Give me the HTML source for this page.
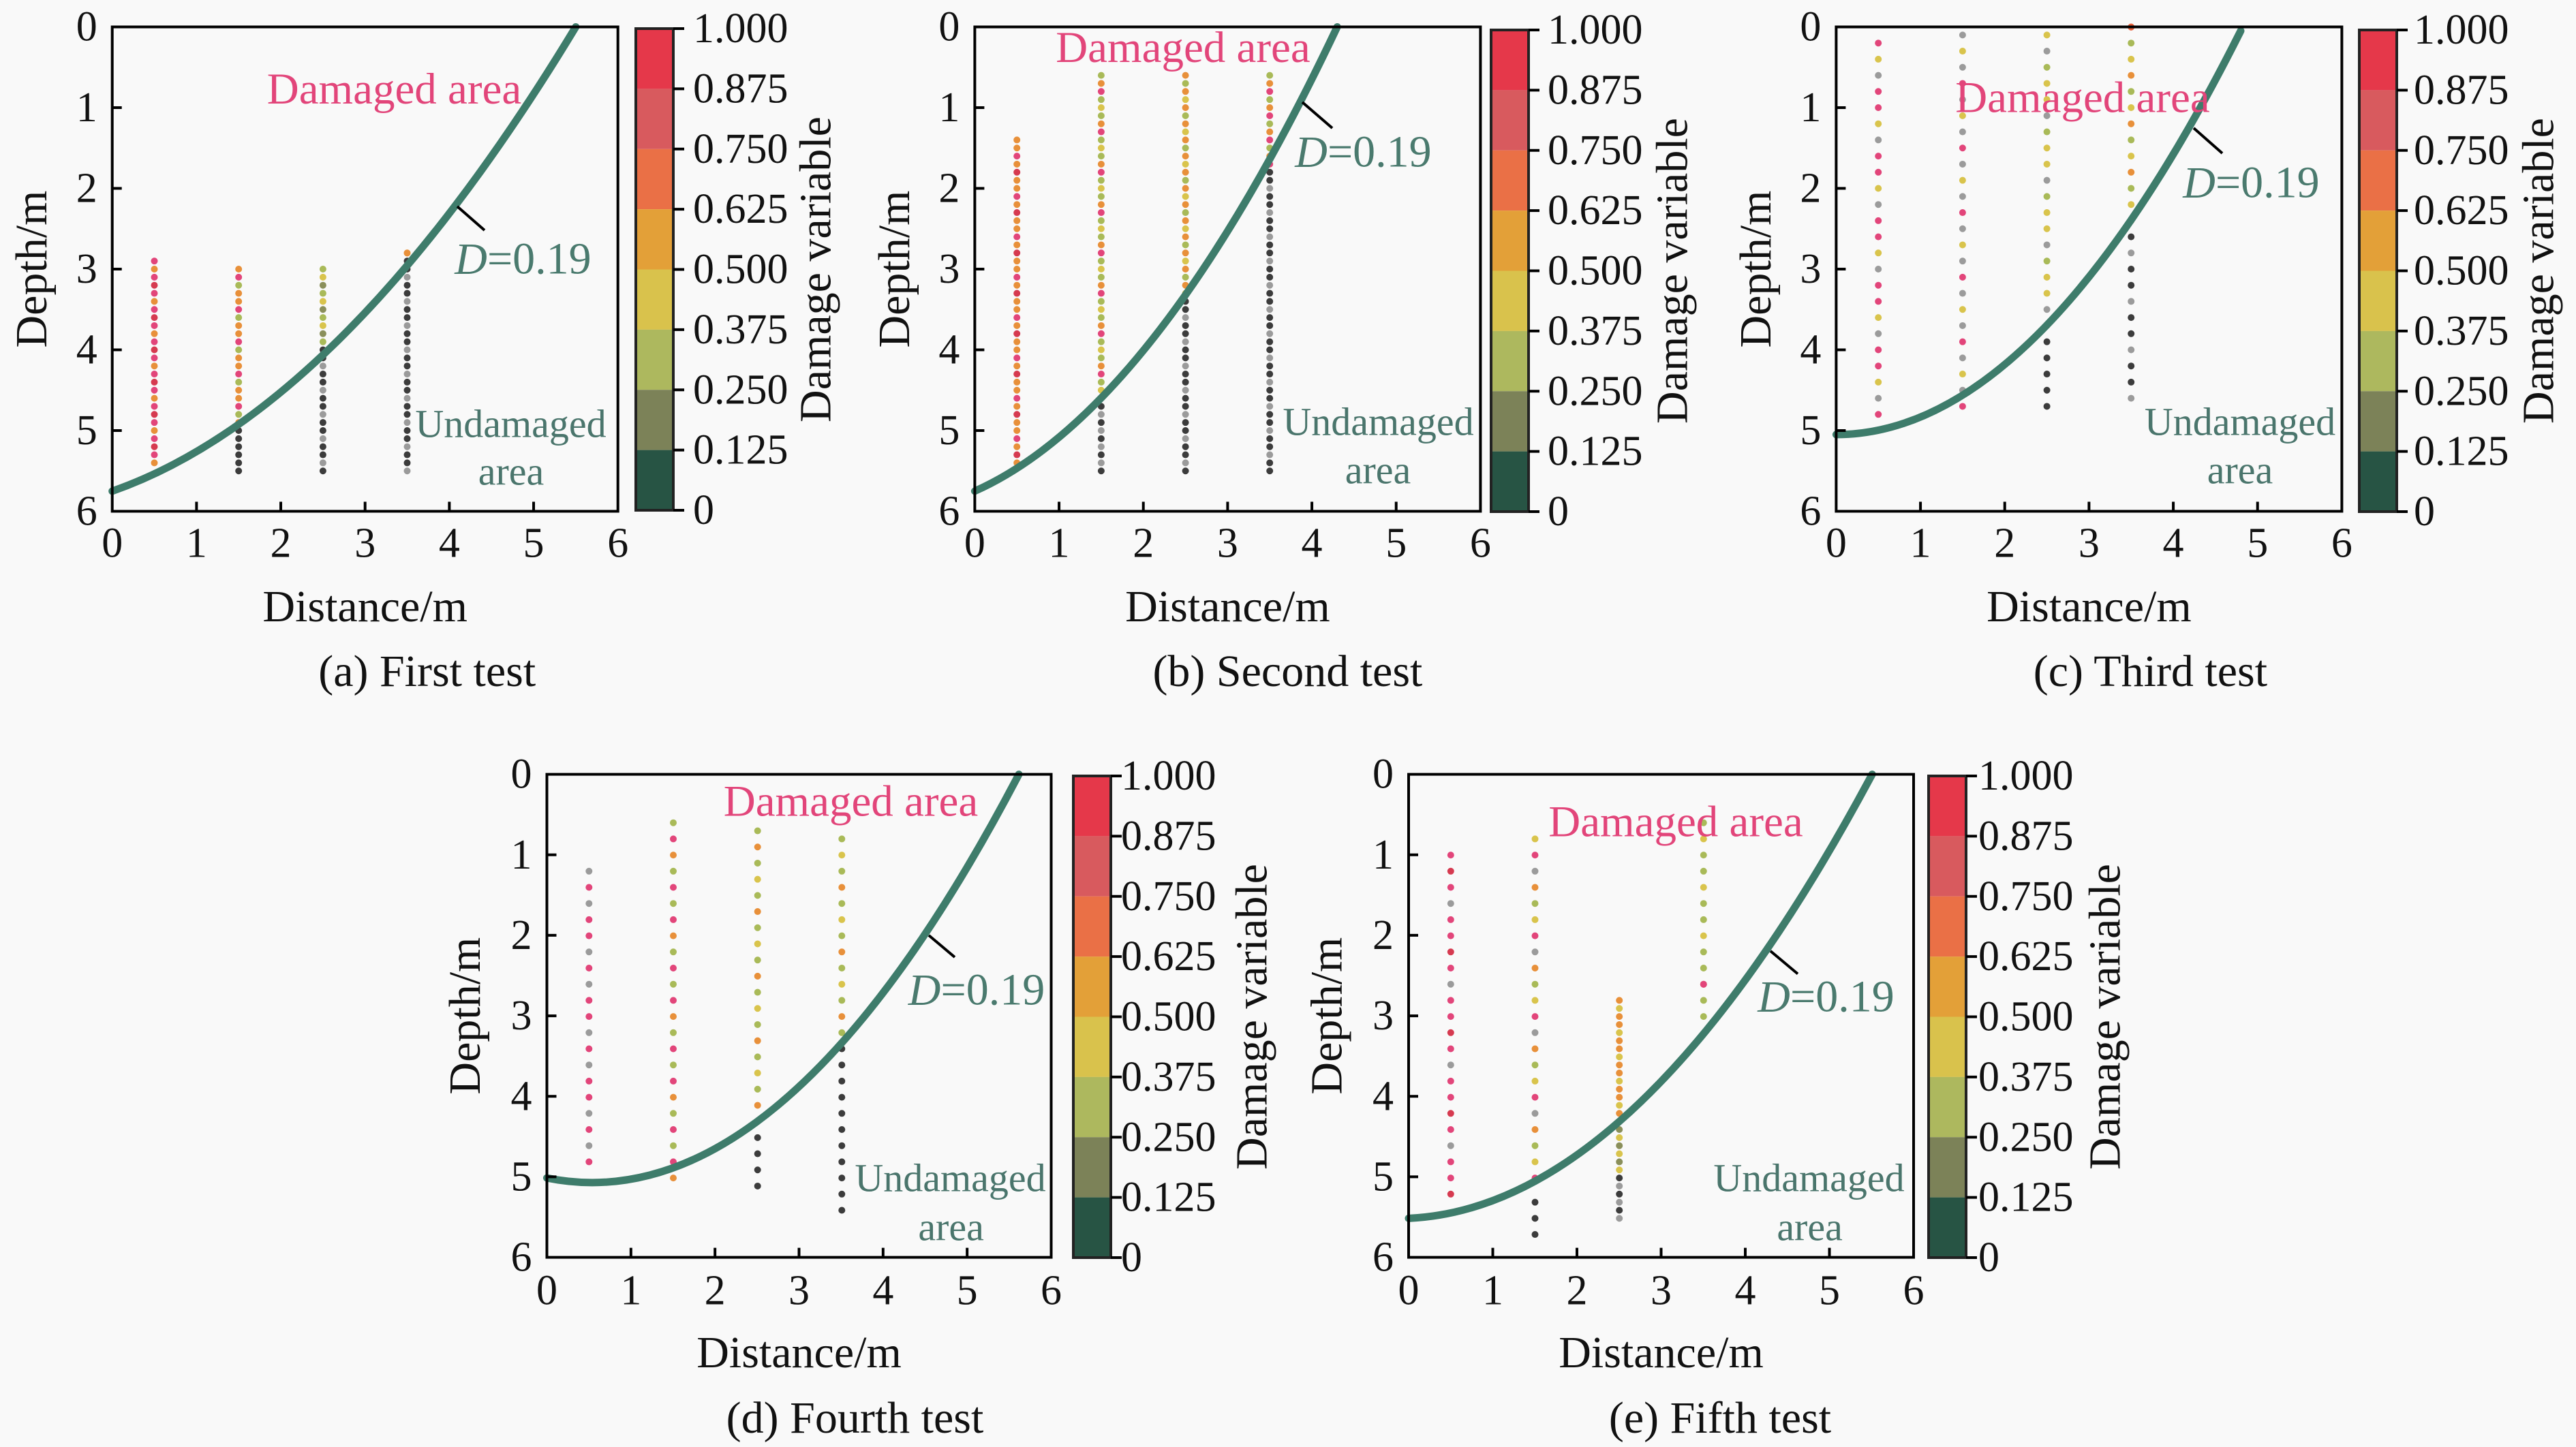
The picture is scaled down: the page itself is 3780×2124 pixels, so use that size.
<!DOCTYPE html>
<html><head><meta charset="utf-8"><style>
html,body{margin:0;padding:0;background:#f9f9f9;}
svg{display:block;}
text{font-family:"Liberation Serif","Times New Roman",serif;fill:#111;}
.tk{font-size:62px;}
.ti{font-size:66px;}
.cap{font-size:66px;}
.dm{font-size:65px;fill:#e2457a;}
.ud{font-size:58px;fill:#4a756c;}
.dv{font-size:66px;fill:#4a7a6e;}
.dl path{fill:none;stroke-width:10;stroke-linecap:round;}
.cv{fill:none;stroke:#3e7c6b;stroke-width:11;stroke-linecap:round;}
.fr{fill:none;stroke:#000;stroke-width:4;}
</style></head><body>
<svg width="3780" height="2124" viewBox="0 0 3780 2124" xmlns="http://www.w3.org/2000/svg">
<rect x="0" y="0" width="3780" height="2124" fill="#f9f9f9"/>

<!-- ================= PANEL A ================= -->
<g transform="translate(164.7,39.5)">
 <g class="dl">
  <path d="M61.8 343.65V646" stroke="#e2457a" stroke-dasharray="0.01 47.39"/>
  <path d="M61.8 355.5V646" stroke="#e8903a" stroke-dasharray="0.01 47.39"/>
  <path d="M61.8 367.35V646" stroke="#e2457a" stroke-dasharray="0.01 47.39"/>
  <path d="M61.8 379.2V646" stroke="#d63a50" stroke-dasharray="0.01 47.39"/>
  <path d="M185.5 355.5V581" stroke="#e8903a" stroke-dasharray="0.01 47.39"/>
  <path d="M185.5 367.35V581" stroke="#e2457a" stroke-dasharray="0.01 47.39"/>
  <path d="M185.5 379.2V581" stroke="#a9ba58" stroke-dasharray="0.01 47.39"/>
  <path d="M185.5 391.05V581" stroke="#e8903a" stroke-dasharray="0.01 47.39"/>
  <path d="M185.5 592.5V652" stroke="#3c3c3c" stroke-dasharray="0.01 11.84"/>
  <path d="M309.2 355.5V463" stroke="#a9ba58" stroke-dasharray="0.01 35.54"/>
  <path d="M309.2 367.35V463" stroke="#d9c44c" stroke-dasharray="0.01 35.54"/>
  <path d="M309.2 379.2V463" stroke="#8a8f5a" stroke-dasharray="0.01 35.54"/>
  <path d="M309.2 474V652" stroke="#3c3c3c" stroke-dasharray="0.01 35.54"/>
  <path d="M309.2 485.85V652" stroke="#3c3c3c" stroke-dasharray="0.01 35.54"/>
  <path d="M309.2 497.7V652" stroke="#9b9b9b" stroke-dasharray="0.01 35.54"/>
  <path d="M432.8 331.8V332" stroke="#e8903a"/>
  <path d="M432.8 343.65V652" stroke="#3c3c3c" stroke-dasharray="0.01 35.54"/>
  <path d="M432.8 355.5V652" stroke="#3c3c3c" stroke-dasharray="0.01 35.54"/>
  <path d="M432.8 367.35V652" stroke="#9b9b9b" stroke-dasharray="0.01 35.54"/>
 </g>
 <path class="cv" d="M0 681.4Q340.1 562.1 680.2 0"/>
 <rect class="fr" x="0" y="0" width="742" height="711"/>
 <path d="M123.67 711v-14M247.33 711v-14M371 711v-14M494.67 711v-14M618.33 711v-14M0 118.5h14M0 237h14M0 355.5h14M0 474h14M0 592.5h14" stroke="#000" stroke-width="4" fill="none"/>
 <g class="tk" text-anchor="middle" dominant-baseline="central">
  <text x="0" y="758">0</text><text x="123.67" y="758">1</text><text x="247.33" y="758">2</text><text x="371" y="758">3</text><text x="494.67" y="758">4</text><text x="618.33" y="758">5</text><text x="742" y="758">6</text>
 </g>
 <g class="tk" text-anchor="end" dominant-baseline="central">
  <text x="-22" y="0">0</text><text x="-22" y="118.5">1</text><text x="-22" y="237">2</text><text x="-22" y="355.5">3</text><text x="-22" y="474">4</text><text x="-22" y="592.5">5</text><text x="-22" y="711">6</text>
 </g>
 <text class="ti" text-anchor="middle" dominant-baseline="central" transform="translate(-118,355.5) rotate(-90)">Depth/m</text>
 <text class="ti" x="371" y="851" text-anchor="middle" dominant-baseline="central">Distance/m</text>
 <text class="cap" x="462" y="946" text-anchor="middle" dominant-baseline="central">(a) First test</text>
 <text class="dm" x="413.8" y="91.5" text-anchor="middle" dominant-baseline="central">Damaged area</text>
 <path d="M506.3 263.5L546.3 298.5" stroke="#000" stroke-width="4"/>
 <text class="dv" x="602.8" y="340.5" text-anchor="middle" dominant-baseline="central"><tspan font-style="italic">D</tspan>=0.19</text>
 <text class="ud" x="584.8" y="582.5" text-anchor="middle" dominant-baseline="central">Undamaged</text>
 <text class="ud" x="585.3" y="652.5" text-anchor="middle" dominant-baseline="central">area</text>
</g>
<g transform="translate(933,42)">
 <rect x="0" y="0" width="55" height="88.4" fill="#e5384a"/><rect x="0" y="88.375" width="55" height="88.4" fill="#d85a5e"/><rect x="0" y="176.75" width="55" height="88.4" fill="#ea7046"/><rect x="0" y="265.125" width="55" height="88.4" fill="#e3a038"/><rect x="0" y="353.5" width="55" height="88.4" fill="#d9c24c"/><rect x="0" y="441.875" width="55" height="88.4" fill="#adb85e"/><rect x="0" y="530.25" width="55" height="88.4" fill="#7c8258"/><rect x="0" y="618.625" width="55" height="88.375" fill="#275444"/>
 <rect x="0" y="0" width="55" height="707" fill="none" stroke="#222" stroke-width="4"/>
 <path d="M55 0h16M55 88.4h16M55 176.8h16M55 265.1h16M55 353.5h16M55 441.9h16M55 530.3h16M55 618.6h16M55 707h16" stroke="#000" stroke-width="4"/>
 <g class="tk" dominant-baseline="central">
  <text x="84" y="0">1.000</text><text x="84" y="88.4">0.875</text><text x="84" y="176.8">0.750</text><text x="84" y="265.1">0.625</text><text x="84" y="353.5">0.500</text><text x="84" y="441.9">0.375</text><text x="84" y="530.3">0.250</text><text x="84" y="618.6">0.125</text><text x="84" y="707">0</text>
 </g>
 <text class="ti" text-anchor="middle" dominant-baseline="central" transform="translate(264,353.5) rotate(-90)">Damage variable</text>
</g>

<!-- ================= PANEL B ================= -->
<g transform="translate(1430.4,39.5)">
 <g class="dl">
  <path d="M61.8 165.9V640.5" stroke="#e8903a" stroke-dasharray="0.01 59.24"/>
  <path d="M61.8 177.75V640.5" stroke="#e8903a" stroke-dasharray="0.01 59.24"/>
  <path d="M61.8 189.6V640.5" stroke="#e2457a" stroke-dasharray="0.01 59.24"/>
  <path d="M61.8 201.45V640.5" stroke="#e8903a" stroke-dasharray="0.01 59.24"/>
  <path d="M61.8 213.3V640.5" stroke="#d63a50" stroke-dasharray="0.01 59.24"/>
  <path d="M185.5 71.1V546" stroke="#a9ba58" stroke-dasharray="0.01 59.24"/>
  <path d="M185.5 82.95V546" stroke="#e8903a" stroke-dasharray="0.01 59.24"/>
  <path d="M185.5 94.8V546" stroke="#e2457a" stroke-dasharray="0.01 59.24"/>
  <path d="M185.5 106.65V546" stroke="#a9ba58" stroke-dasharray="0.01 59.24"/>
  <path d="M185.5 118.5V546" stroke="#d9c44c" stroke-dasharray="0.01 59.24"/>
  <path d="M185.5 556.95V652.5" stroke="#3c3c3c" stroke-dasharray="0.01 23.69"/>
  <path d="M185.5 568.8V652.5" stroke="#9b9b9b" stroke-dasharray="0.01 23.69"/>
  <path d="M309.2 71.1V392" stroke="#e8903a" stroke-dasharray="0.01 47.39"/>
  <path d="M309.2 82.95V392" stroke="#a9ba58" stroke-dasharray="0.01 47.39"/>
  <path d="M309.2 94.8V392" stroke="#e8903a" stroke-dasharray="0.01 47.39"/>
  <path d="M309.2 106.65V392" stroke="#d9c44c" stroke-dasharray="0.01 47.39"/>
  <path d="M309.2 402.9V652.5" stroke="#3c3c3c" stroke-dasharray="0.01 35.54"/>
  <path d="M309.2 414.75V652.5" stroke="#3c3c3c" stroke-dasharray="0.01 35.54"/>
  <path d="M309.2 426.6V652.5" stroke="#9b9b9b" stroke-dasharray="0.01 35.54"/>
  <path d="M432.8 71.1V202" stroke="#a9ba58" stroke-dasharray="0.01 35.54"/>
  <path d="M432.8 82.95V202" stroke="#e8903a" stroke-dasharray="0.01 35.54"/>
  <path d="M432.8 94.8V202" stroke="#e2457a" stroke-dasharray="0.01 35.54"/>
  <path d="M432.8 213.3V652.5" stroke="#3c3c3c" stroke-dasharray="0.01 35.54"/>
  <path d="M432.8 225.15V652.5" stroke="#3c3c3c" stroke-dasharray="0.01 35.54"/>
  <path d="M432.8 237V652.5" stroke="#9b9b9b" stroke-dasharray="0.01 35.54"/>
 </g>
 <path class="cv" d="M0 681.4Q265.9 562.9 531.8 0"/>
 <rect class="fr" x="0" y="0" width="742" height="711"/>
 <path d="M123.67 711v-14M247.33 711v-14M371 711v-14M494.67 711v-14M618.33 711v-14M0 118.5h14M0 237h14M0 355.5h14M0 474h14M0 592.5h14" stroke="#000" stroke-width="4" fill="none"/>
 <g class="tk" text-anchor="middle" dominant-baseline="central">
  <text x="0" y="758">0</text><text x="123.67" y="758">1</text><text x="247.33" y="758">2</text><text x="371" y="758">3</text><text x="494.67" y="758">4</text><text x="618.33" y="758">5</text><text x="742" y="758">6</text>
 </g>
 <g class="tk" text-anchor="end" dominant-baseline="central">
  <text x="-22" y="0">0</text><text x="-22" y="118.5">1</text><text x="-22" y="237">2</text><text x="-22" y="355.5">3</text><text x="-22" y="474">4</text><text x="-22" y="592.5">5</text><text x="-22" y="711">6</text>
 </g>
 <text class="ti" text-anchor="middle" dominant-baseline="central" transform="translate(-118,355.5) rotate(-90)">Depth/m</text>
 <text class="ti" x="371" y="851" text-anchor="middle" dominant-baseline="central">Distance/m</text>
 <text class="cap" x="459" y="946" text-anchor="middle" dominant-baseline="central">(b) Second test</text>
 <text class="dm" x="305.6" y="30.5" text-anchor="middle" dominant-baseline="central">Damaged area</text>
 <path d="M480.6 110.5L524.6 148.5" stroke="#000" stroke-width="4"/>
 <text class="dv" x="570.1" y="183.5" text-anchor="middle" dominant-baseline="central"><tspan font-style="italic">D</tspan>=0.19</text>
 <text class="ud" x="592.1" y="579.5" text-anchor="middle" dominant-baseline="central">Undamaged</text>
 <text class="ud" x="591.6" y="650.5" text-anchor="middle" dominant-baseline="central">area</text>
</g>
<g transform="translate(2188,44)">
 <rect x="0" y="0" width="55" height="88.4" fill="#e5384a"/><rect x="0" y="88.375" width="55" height="88.4" fill="#d85a5e"/><rect x="0" y="176.75" width="55" height="88.4" fill="#ea7046"/><rect x="0" y="265.125" width="55" height="88.4" fill="#e3a038"/><rect x="0" y="353.5" width="55" height="88.4" fill="#d9c24c"/><rect x="0" y="441.875" width="55" height="88.4" fill="#adb85e"/><rect x="0" y="530.25" width="55" height="88.4" fill="#7c8258"/><rect x="0" y="618.625" width="55" height="88.375" fill="#275444"/>
 <rect x="0" y="0" width="55" height="707" fill="none" stroke="#222" stroke-width="4"/>
 <path d="M55 0h16M55 88.4h16M55 176.8h16M55 265.1h16M55 353.5h16M55 441.9h16M55 530.3h16M55 618.6h16M55 707h16" stroke="#000" stroke-width="4"/>
 <g class="tk" dominant-baseline="central">
  <text x="83" y="0">1.000</text><text x="83" y="88.4">0.875</text><text x="83" y="176.8">0.750</text><text x="83" y="265.1">0.625</text><text x="83" y="353.5">0.500</text><text x="83" y="441.9">0.375</text><text x="83" y="530.3">0.250</text><text x="83" y="618.6">0.125</text><text x="83" y="707">0</text>
 </g>
 <text class="ti" text-anchor="middle" dominant-baseline="central" transform="translate(266,353.5) rotate(-90)">Damage variable</text>
</g>

<!-- ================= PANEL C ================= -->
<g transform="translate(2694.4,39.5)">
 <g class="dl">
  <path d="M61.8 23.7V569.5" stroke="#e2457a" stroke-dasharray="0.01 94.79"/>
  <path d="M61.8 47.4V569.5" stroke="#d9c44c" stroke-dasharray="0.01 94.79"/>
  <path d="M61.8 71.1V569.5" stroke="#9b9b9b" stroke-dasharray="0.01 94.79"/>
  <path d="M61.8 94.8V569.5" stroke="#e2457a" stroke-dasharray="0.01 94.79"/>
  <path d="M185.5 11.85V557.5" stroke="#9b9b9b" stroke-dasharray="0.01 94.79"/>
  <path d="M185.5 35.55V557.5" stroke="#d9c44c" stroke-dasharray="0.01 94.79"/>
  <path d="M185.5 59.25V557.5" stroke="#9b9b9b" stroke-dasharray="0.01 94.79"/>
  <path d="M185.5 82.95V557.5" stroke="#e2457a" stroke-dasharray="0.01 94.79"/>
  <path d="M309.2 11.85V439" stroke="#d9c44c" stroke-dasharray="0.01 94.79"/>
  <path d="M309.2 35.55V439" stroke="#9b9b9b" stroke-dasharray="0.01 94.79"/>
  <path d="M309.2 59.25V439" stroke="#a9ba58" stroke-dasharray="0.01 94.79"/>
  <path d="M309.2 82.95V439" stroke="#d9c44c" stroke-dasharray="0.01 94.79"/>
  <path d="M309.2 462.15V557.5" stroke="#3c3c3c" stroke-dasharray="0.01 23.69"/>
  <path d="M432.8 0V0.2" stroke="#e8603a"/>
  <path d="M432.8 23.7V285" stroke="#a9ba58" stroke-dasharray="0.01 71.09"/>
  <path d="M432.8 47.4V285" stroke="#d9c44c" stroke-dasharray="0.01 71.09"/>
  <path d="M432.8 71.1V285" stroke="#e8903a" stroke-dasharray="0.01 71.09"/>
  <path d="M432.8 308.1V546" stroke="#3c3c3c" stroke-dasharray="0.01 71.09"/>
  <path d="M432.8 331.8V546" stroke="#9b9b9b" stroke-dasharray="0.01 71.09"/>
  <path d="M432.8 355.5V546" stroke="#3c3c3c" stroke-dasharray="0.01 71.09"/>
 </g>
 <path class="cv" d="M0 598.4Q296.8 598.4 593.6 5.9"/>
 <rect class="fr" x="0" y="0" width="742" height="711"/>
 <path d="M123.67 711v-14M247.33 711v-14M371 711v-14M494.67 711v-14M618.33 711v-14M0 118.5h14M0 237h14M0 355.5h14M0 474h14M0 592.5h14" stroke="#000" stroke-width="4" fill="none"/>
 <g class="tk" text-anchor="middle" dominant-baseline="central">
  <text x="0" y="758">0</text><text x="123.67" y="758">1</text><text x="247.33" y="758">2</text><text x="371" y="758">3</text><text x="494.67" y="758">4</text><text x="618.33" y="758">5</text><text x="742" y="758">6</text>
 </g>
 <g class="tk" text-anchor="end" dominant-baseline="central">
  <text x="-22" y="0">0</text><text x="-22" y="118.5">1</text><text x="-22" y="237">2</text><text x="-22" y="355.5">3</text><text x="-22" y="474">4</text><text x="-22" y="592.5">5</text><text x="-22" y="711">6</text>
 </g>
 <text class="ti" text-anchor="middle" dominant-baseline="central" transform="translate(-118,355.5) rotate(-90)">Depth/m</text>
 <text class="ti" x="371" y="851" text-anchor="middle" dominant-baseline="central">Distance/m</text>
 <text class="cap" x="461" y="946" text-anchor="middle" dominant-baseline="central">(c) Third test</text>
 <text class="dm" x="361.6" y="104" text-anchor="middle" dominant-baseline="central">Damaged area</text>
 <path d="M524.6 148.5L566.6 185.5" stroke="#000" stroke-width="4"/>
 <text class="dv" x="609.1" y="228.5" text-anchor="middle" dominant-baseline="central"><tspan font-style="italic">D</tspan>=0.19</text>
 <text class="ud" x="592.6" y="579.5" text-anchor="middle" dominant-baseline="central">Undamaged</text>
 <text class="ud" x="592.6" y="650.5" text-anchor="middle" dominant-baseline="central">area</text>
</g>
<g transform="translate(3462,44)">
 <rect x="0" y="0" width="55" height="88.4" fill="#e5384a"/><rect x="0" y="88.375" width="55" height="88.4" fill="#d85a5e"/><rect x="0" y="176.75" width="55" height="88.4" fill="#ea7046"/><rect x="0" y="265.125" width="55" height="88.4" fill="#e3a038"/><rect x="0" y="353.5" width="55" height="88.4" fill="#d9c24c"/><rect x="0" y="441.875" width="55" height="88.4" fill="#adb85e"/><rect x="0" y="530.25" width="55" height="88.4" fill="#7c8258"/><rect x="0" y="618.625" width="55" height="88.375" fill="#275444"/>
 <rect x="0" y="0" width="55" height="707" fill="none" stroke="#222" stroke-width="4"/>
 <path d="M55 0h16M55 88.4h16M55 176.8h16M55 265.1h16M55 353.5h16M55 441.9h16M55 530.3h16M55 618.6h16M55 707h16" stroke="#000" stroke-width="4"/>
 <g class="tk" dominant-baseline="central">
  <text x="80" y="0">1.000</text><text x="80" y="88.4">0.875</text><text x="80" y="176.8">0.750</text><text x="80" y="265.1">0.625</text><text x="80" y="353.5">0.500</text><text x="80" y="441.9">0.375</text><text x="80" y="530.3">0.250</text><text x="80" y="618.6">0.125</text><text x="80" y="707">0</text>
 </g>
 <text class="ti" text-anchor="middle" dominant-baseline="central" transform="translate(263,353.5) rotate(-90)">Damage variable</text>
</g>

<!-- ================= PANEL D ================= -->
<g transform="translate(802.5,1136.6)">
 <g class="dl">
  <path d="M61.8 142.2V569.5" stroke="#9b9b9b" stroke-dasharray="0.01 118.49"/>
  <path d="M61.8 165.9V569.5" stroke="#e2457a" stroke-dasharray="0.01 118.49"/>
  <path d="M61.8 189.6V569.5" stroke="#9b9b9b" stroke-dasharray="0.01 118.49"/>
  <path d="M61.8 213.3V569.5" stroke="#e2457a" stroke-dasharray="0.01 118.49"/>
  <path d="M61.8 237V569.5" stroke="#e2457a" stroke-dasharray="0.01 118.49"/>
  <path d="M185.5 71.1V593" stroke="#a9ba58" stroke-dasharray="0.01 118.49"/>
  <path d="M185.5 94.8V593" stroke="#e2457a" stroke-dasharray="0.01 118.49"/>
  <path d="M185.5 118.5V593" stroke="#e8903a" stroke-dasharray="0.01 118.49"/>
  <path d="M185.5 142.2V593" stroke="#a9ba58" stroke-dasharray="0.01 118.49"/>
  <path d="M185.5 165.9V593" stroke="#e2457a" stroke-dasharray="0.01 118.49"/>
  <path d="M309.2 82.95V510" stroke="#a9ba58" stroke-dasharray="0.01 94.79"/>
  <path d="M309.2 106.65V510" stroke="#e8903a" stroke-dasharray="0.01 94.79"/>
  <path d="M309.2 130.35V510" stroke="#a9ba58" stroke-dasharray="0.01 94.79"/>
  <path d="M309.2 154.05V510" stroke="#d9c44c" stroke-dasharray="0.01 94.79"/>
  <path d="M309.2 533.25V605" stroke="#3c3c3c" stroke-dasharray="0.01 23.69"/>
  <path d="M432.8 94.8V380" stroke="#a9ba58" stroke-dasharray="0.01 94.79"/>
  <path d="M432.8 118.5V380" stroke="#d9c44c" stroke-dasharray="0.01 94.79"/>
  <path d="M432.8 142.2V380" stroke="#a9ba58" stroke-dasharray="0.01 94.79"/>
  <path d="M432.8 165.9V380" stroke="#e8903a" stroke-dasharray="0.01 94.79"/>
  <path d="M432.8 402.9V640.5" stroke="#3c3c3c" stroke-dasharray="0.01 23.69"/>
 </g>
 <path class="cv" d="M0 592.5Q346.3 662.8 692.6 0"/>
 <rect class="fr" x="0" y="0" width="740" height="709"/>
 <path d="M123.33 709v-14M246.67 709v-14M370 709v-14M493.33 709v-14M616.67 709v-14M0 118.17h14M0 236.33h14M0 354.5h14M0 472.67h14M0 590.83h14" stroke="#000" stroke-width="4" fill="none"/>
 <g class="tk" text-anchor="middle" dominant-baseline="central">
  <text x="0" y="758">0</text><text x="123.33" y="758">1</text><text x="246.67" y="758">2</text><text x="370" y="758">3</text><text x="493.33" y="758">4</text><text x="616.67" y="758">5</text><text x="740" y="758">6</text>
 </g>
 <g class="tk" text-anchor="end" dominant-baseline="central">
  <text x="-22" y="0">0</text><text x="-22" y="118.17">1</text><text x="-22" y="236.33">2</text><text x="-22" y="354.5">3</text><text x="-22" y="472.67">4</text><text x="-22" y="590.83">5</text><text x="-22" y="709">6</text>
 </g>
 <text class="ti" text-anchor="middle" dominant-baseline="central" transform="translate(-120,354.5) rotate(-90)">Depth/m</text>
 <text class="ti" x="370" y="849" text-anchor="middle" dominant-baseline="central">Distance/m</text>
 <text class="cap" x="452" y="945" text-anchor="middle" dominant-baseline="central">(d) Fourth test</text>
 <text class="dm" x="446" y="39.9" text-anchor="middle" dominant-baseline="central">Damaged area</text>
 <path d="M560.5 236.4L598.5 268.4" stroke="#000" stroke-width="4"/>
 <text class="dv" x="630.5" y="316.4" text-anchor="middle" dominant-baseline="central"><tspan font-style="italic">D</tspan>=0.19</text>
 <text class="ud" x="592" y="592.4" text-anchor="middle" dominant-baseline="central">Undamaged</text>
 <text class="ud" x="593.1" y="664.4" text-anchor="middle" dominant-baseline="central">area</text>
</g>
<g transform="translate(1575,1139)">
 <rect x="0" y="0" width="55" height="88.4" fill="#e5384a"/><rect x="0" y="88.375" width="55" height="88.4" fill="#d85a5e"/><rect x="0" y="176.75" width="55" height="88.4" fill="#ea7046"/><rect x="0" y="265.125" width="55" height="88.4" fill="#e3a038"/><rect x="0" y="353.5" width="55" height="88.4" fill="#d9c24c"/><rect x="0" y="441.875" width="55" height="88.4" fill="#adb85e"/><rect x="0" y="530.25" width="55" height="88.4" fill="#7c8258"/><rect x="0" y="618.625" width="55" height="88.375" fill="#275444"/>
 <rect x="0" y="0" width="55" height="707" fill="none" stroke="#222" stroke-width="4"/>
 <path d="M55 0h16M55 88.4h16M55 176.8h16M55 265.1h16M55 353.5h16M55 441.9h16M55 530.3h16M55 618.6h16M55 707h16" stroke="#000" stroke-width="4"/>
 <g class="tk" dominant-baseline="central">
  <text x="70" y="0">1.000</text><text x="70" y="88.4">0.875</text><text x="70" y="176.8">0.750</text><text x="70" y="265.1">0.625</text><text x="70" y="353.5">0.500</text><text x="70" y="441.9">0.375</text><text x="70" y="530.3">0.250</text><text x="70" y="618.6">0.125</text><text x="70" y="707">0</text>
 </g>
 <text class="ti" text-anchor="middle" dominant-baseline="central" transform="translate(262,353.5) rotate(-90)">Damage variable</text>
</g>

<!-- ================= PANEL E ================= -->
<g transform="translate(2067,1136.6)">
 <g class="dl">
  <path d="M61.8 118.5V617" stroke="#e2457a" stroke-dasharray="0.01 118.49"/>
  <path d="M61.8 142.2V617" stroke="#d63a50" stroke-dasharray="0.01 118.49"/>
  <path d="M61.8 165.9V617" stroke="#e2457a" stroke-dasharray="0.01 118.49"/>
  <path d="M61.8 189.6V617" stroke="#9b9b9b" stroke-dasharray="0.01 118.49"/>
  <path d="M61.8 213.3V617" stroke="#e2457a" stroke-dasharray="0.01 118.49"/>
  <path d="M185.5 94.8V593" stroke="#d9c44c" stroke-dasharray="0.01 118.49"/>
  <path d="M185.5 118.5V593" stroke="#e2457a" stroke-dasharray="0.01 118.49"/>
  <path d="M185.5 142.2V593" stroke="#9b9b9b" stroke-dasharray="0.01 118.49"/>
  <path d="M185.5 165.9V593" stroke="#e8903a" stroke-dasharray="0.01 118.49"/>
  <path d="M185.5 189.6V593" stroke="#a9ba58" stroke-dasharray="0.01 118.49"/>
  <path d="M185.5 628.05V676" stroke="#3c3c3c" stroke-dasharray="0.01 23.69"/>
  <path d="M309.2 331.8V510" stroke="#e8903a" stroke-dasharray="0.01 35.54"/>
  <path d="M309.2 343.65V510" stroke="#d9c44c" stroke-dasharray="0.01 35.54"/>
  <path d="M309.2 355.5V510" stroke="#e8903a" stroke-dasharray="0.01 35.54"/>
  <path d="M309.2 521.4V581" stroke="#8a8f5a" stroke-dasharray="0.01 23.69"/>
  <path d="M309.2 533.25V581" stroke="#d9c44c" stroke-dasharray="0.01 23.69"/>
  <path d="M309.2 592.5V652.5" stroke="#3c3c3c" stroke-dasharray="0.01 23.69"/>
  <path d="M309.2 604.35V652.5" stroke="#9b9b9b" stroke-dasharray="0.01 23.69"/>
  <path d="M432.8 71.1V356" stroke="#a9ba58" stroke-dasharray="0.01 71.09"/>
  <path d="M432.8 94.8V356" stroke="#d9c44c" stroke-dasharray="0.01 71.09"/>
  <path d="M432.8 118.5V356" stroke="#a9ba58" stroke-dasharray="0.01 71.09"/>
  <path d="M432.8 308.1V308.3" stroke="#e2457a"/>
 </g>
 <path class="cv" d="M0 651.75Q340.1 636.5 680.2 0"/>
 <rect class="fr" x="0" y="0" width="741" height="709"/>
 <path d="M123.5 709v-14M247 709v-14M370.5 709v-14M494 709v-14M617.5 709v-14M0 118.17h14M0 236.33h14M0 354.5h14M0 472.67h14M0 590.83h14" stroke="#000" stroke-width="4" fill="none"/>
 <g class="tk" text-anchor="middle" dominant-baseline="central">
  <text x="0" y="758">0</text><text x="123.5" y="758">1</text><text x="247" y="758">2</text><text x="370.5" y="758">3</text><text x="494" y="758">4</text><text x="617.5" y="758">5</text><text x="741" y="758">6</text>
 </g>
 <g class="tk" text-anchor="end" dominant-baseline="central">
  <text x="-22" y="0">0</text><text x="-22" y="118.17">1</text><text x="-22" y="236.33">2</text><text x="-22" y="354.5">3</text><text x="-22" y="472.67">4</text><text x="-22" y="590.83">5</text><text x="-22" y="709">6</text>
 </g>
 <text class="ti" text-anchor="middle" dominant-baseline="central" transform="translate(-120,354.5) rotate(-90)">Depth/m</text>
 <text class="ti" x="370.5" y="849" text-anchor="middle" dominant-baseline="central">Distance/m</text>
 <text class="cap" x="457" y="945" text-anchor="middle" dominant-baseline="central">(e) Fifth test</text>
 <text class="dm" x="392" y="69.9" text-anchor="middle" dominant-baseline="central">Damaged area</text>
 <path d="M531 259.4L571 292.9" stroke="#000" stroke-width="4"/>
 <text class="dv" x="612.5" y="326.4" text-anchor="middle" dominant-baseline="central"><tspan font-style="italic">D</tspan>=0.19</text>
 <text class="ud" x="587.5" y="592.4" text-anchor="middle" dominant-baseline="central">Undamaged</text>
 <text class="ud" x="588.6" y="664.4" text-anchor="middle" dominant-baseline="central">area</text>
</g>
<g transform="translate(2830,1139)">
 <rect x="0" y="0" width="55" height="88.4" fill="#e5384a"/><rect x="0" y="88.375" width="55" height="88.4" fill="#d85a5e"/><rect x="0" y="176.75" width="55" height="88.4" fill="#ea7046"/><rect x="0" y="265.125" width="55" height="88.4" fill="#e3a038"/><rect x="0" y="353.5" width="55" height="88.4" fill="#d9c24c"/><rect x="0" y="441.875" width="55" height="88.4" fill="#adb85e"/><rect x="0" y="530.25" width="55" height="88.4" fill="#7c8258"/><rect x="0" y="618.625" width="55" height="88.375" fill="#275444"/>
 <rect x="0" y="0" width="55" height="707" fill="none" stroke="#222" stroke-width="4"/>
 <path d="M55 0h16M55 88.4h16M55 176.8h16M55 265.1h16M55 353.5h16M55 441.9h16M55 530.3h16M55 618.6h16M55 707h16" stroke="#000" stroke-width="4"/>
 <g class="tk" dominant-baseline="central">
  <text x="73" y="0">1.000</text><text x="73" y="88.4">0.875</text><text x="73" y="176.8">0.750</text><text x="73" y="265.1">0.625</text><text x="73" y="353.5">0.500</text><text x="73" y="441.9">0.375</text><text x="73" y="530.3">0.250</text><text x="73" y="618.6">0.125</text><text x="73" y="707">0</text>
 </g>
 <text class="ti" text-anchor="middle" dominant-baseline="central" transform="translate(259,353.5) rotate(-90)">Damage variable</text>
</g>
</svg>
</body></html>
